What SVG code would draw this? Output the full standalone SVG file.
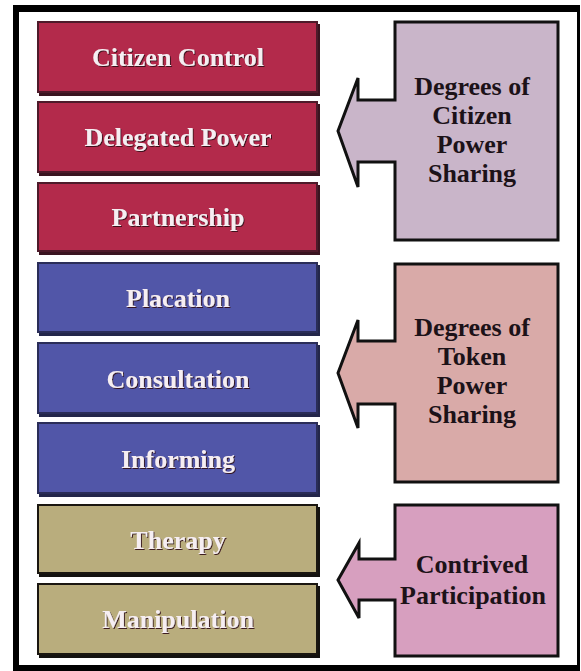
<svg xmlns="http://www.w3.org/2000/svg" width="581" height="671" viewBox="0 0 581 671">
<defs>
<filter id="ts" x="-10%" y="-30%" width="120%" height="160%">
<feDropShadow dx="1" dy="1" stdDeviation="0.6" flood-color="#301018" flood-opacity="0.9"/>
</filter>
</defs>
<style>
.lbl{font-family:"Liberation Serif","Times New Roman",serif;font-weight:bold;font-size:26px;text-anchor:middle}
.lt{fill:#f6eef2;filter:url(#ts)}
.rt{fill:#1c1218}
.red{fill:#b32a4b;stroke:#4e1a2a;stroke-width:2}
.blue{fill:#5156a8;stroke:#2a2d58;stroke-width:2}
.tan{fill:#b9ad7d;stroke:#1a1610;stroke-width:2}
.shr{fill:#3a1420}
.shb{fill:#23264a}
.sht{fill:#141210}
.call{stroke:#111;stroke-width:3;stroke-linejoin:miter}
</style>
<rect width="581" height="671" fill="#ffffff"/>
<path d="M13 5H580V671H13Z M19 12V665H577V12Z" fill="#000" fill-rule="evenodd"/>

<g id="citizen-control"><rect class="shr" x="39" y="24" width="281" height="72"/><rect class="red" x="38" y="22" width="279" height="70"/><text class="lbl lt" x="178" y="66">Citizen Control</text></g>
<g id="delegated-power"><rect class="shr" x="39" y="104" width="281" height="72"/><rect class="red" x="38" y="102" width="279" height="70"/><text class="lbl lt" x="178" y="146">Delegated Power</text></g>
<g id="partnership"><rect class="shr" x="39" y="185" width="281" height="70"/><rect class="red" x="38" y="183" width="279" height="68"/><text class="lbl lt" x="178" y="226">Partnership</text></g>

<g id="placation"><rect class="shb" x="39" y="265" width="281" height="71"/><rect class="blue" x="38" y="263" width="279" height="69"/><text class="lbl lt" x="178" y="307">Placation</text></g>
<g id="consultation"><rect class="shb" x="39" y="345" width="281" height="72"/><rect class="blue" x="38" y="343" width="279" height="70"/><text class="lbl lt" x="178" y="388">Consultation</text></g>
<g id="informing"><rect class="shb" x="39" y="425" width="281" height="72"/><rect class="blue" x="38" y="423" width="279" height="70"/><text class="lbl lt" x="178" y="468">Informing</text></g>

<g id="therapy"><rect class="sht" x="39" y="507" width="281" height="70"/><rect class="tan" x="38" y="505" width="279" height="68"/><text class="lbl lt" x="178" y="549">Therapy</text></g>
<g id="manipulation"><rect class="sht" x="39" y="586" width="281" height="72"/><rect class="tan" x="38" y="584" width="279" height="70"/><text class="lbl lt" x="178" y="628">Manipulation</text></g>

<g id="connectors">
<path class="call" fill="#c9b5c9" d="M395 22H558V240H395V162H358V187L338 131L358 78V100H395Z"/>
<path class="call" fill="#d9aaa8" d="M395 264H558V482H395V404H358V428L338 373L358 320V341H395Z"/>
<path class="call" fill="#d79fbf" d="M395 505H558V656H395V600H359V618L338 580L359 543V559H395Z"/>
</g>

<g id="citizen-power-sharing">
<text class="lbl rt" x="472" y="95">Degrees of</text>
<text class="lbl rt" x="472" y="124">Citizen</text>
<text class="lbl rt" x="472" y="153">Power</text>
<text class="lbl rt" x="472" y="182">Sharing</text>
</g>
<g id="token-power-sharing">
<text class="lbl rt" x="472" y="336">Degrees of</text>
<text class="lbl rt" x="472" y="365">Token</text>
<text class="lbl rt" x="472" y="394">Power</text>
<text class="lbl rt" x="472" y="423">Sharing</text>
</g>
<g id="contrived-participation">
<text class="lbl rt" x="472" y="573">Contrived</text>
<text class="lbl rt" x="473" y="604">Participation</text>
</g>
</svg>
